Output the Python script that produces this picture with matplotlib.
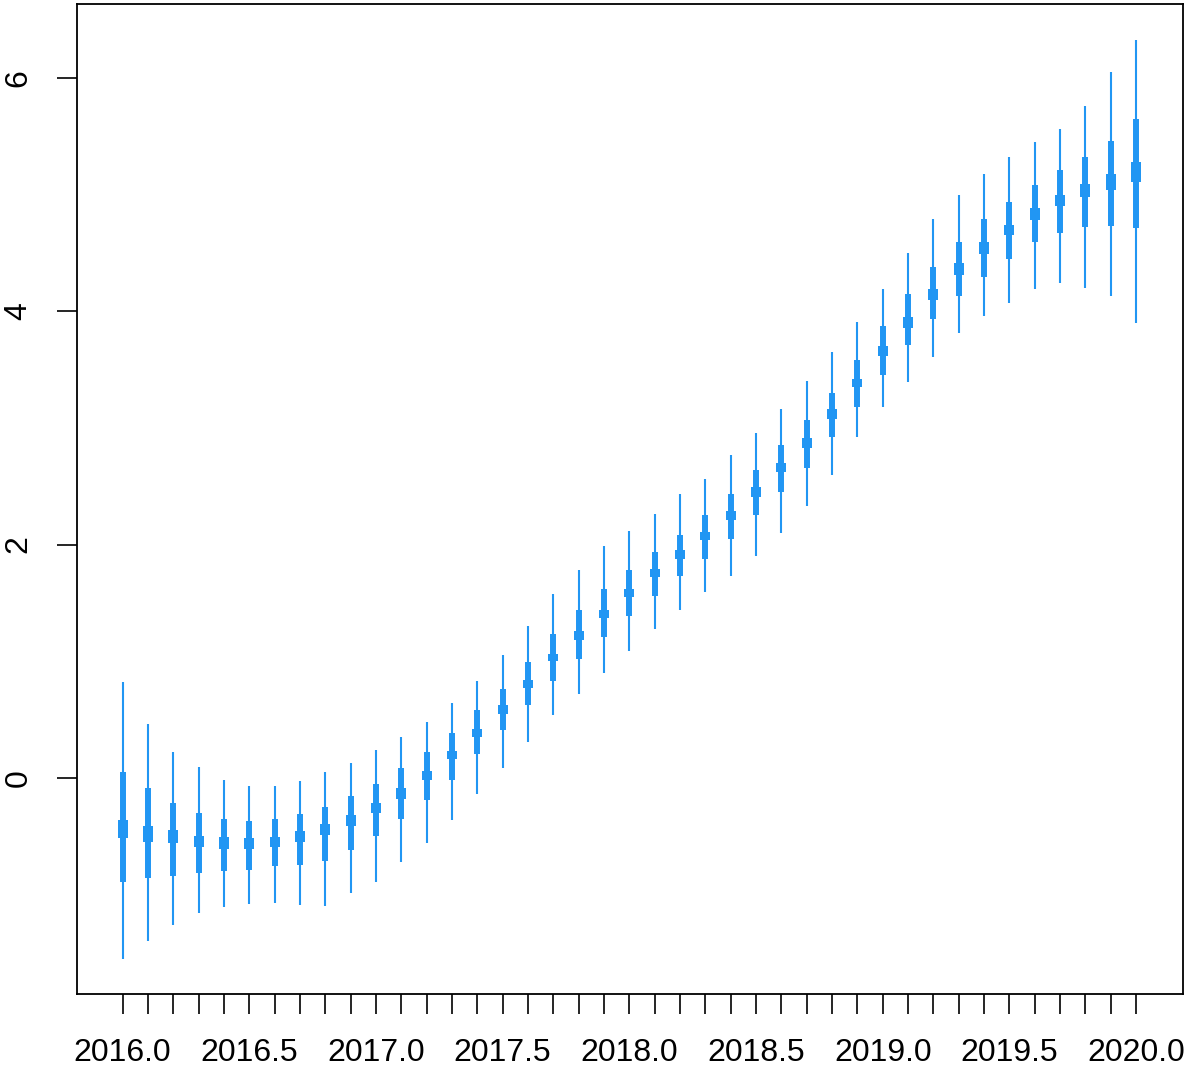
import numpy as np
import matplotlib
matplotlib.use("Agg")
import matplotlib.pyplot as plt

plt.rcParams['font.family'] = ['Liberation Sans', 'DejaVu Sans']

# time points (quarterly-ish steps of 0.1 year)
times = [2016.0, 2016.1, 2016.2, 2016.3, 2016.4, 2016.5, 2016.6, 2016.7, 2016.8, 2016.9,
         2017.0, 2017.1, 2017.2, 2017.3, 2017.4, 2017.5, 2017.6, 2017.7, 2017.8, 2017.9,
         2018.0, 2018.1, 2018.2, 2018.3, 2018.4, 2018.5, 2018.6, 2018.7, 2018.8, 2018.9,
         2019.0, 2019.1, 2019.2, 2019.3, 2019.4, 2019.5, 2019.6, 2019.7, 2019.8, 2019.9,
         2020.0]

# outer interval (thin line)
outer_lo = [-1.55, -1.40, -1.26, -1.16, -1.11, -1.08, -1.07, -1.09, -1.10, -0.99,
            -0.89, -0.72, -0.56, -0.36, -0.14, 0.08, 0.31, 0.54, 0.72, 0.90,
            1.09, 1.28, 1.44, 1.59, 1.73, 1.90, 2.10, 2.33, 2.60, 2.92,
            3.18, 3.39, 3.61, 3.81, 3.96, 4.07, 4.19, 4.24, 4.20, 4.13,
            3.90]
outer_hi = [0.82, 0.46, 0.22, 0.09, -0.02, -0.07, -0.07, -0.03, 0.05, 0.13,
            0.24, 0.35, 0.48, 0.64, 0.83, 1.05, 1.30, 1.58, 1.78, 1.99,
            2.12, 2.26, 2.43, 2.56, 2.77, 2.96, 3.16, 3.40, 3.65, 3.91,
            4.19, 4.50, 4.79, 5.00, 5.18, 5.32, 5.45, 5.56, 5.76, 6.05,
            6.33]

# inner interval (thick line)
inner_lo = [-0.89, -0.86, -0.84, -0.82, -0.80, -0.79, -0.76, -0.75, -0.71, -0.62,
            -0.50, -0.35, -0.19, -0.02, 0.20, 0.41, 0.62, 0.83, 1.02, 1.21,
            1.39, 1.56, 1.73, 1.88, 2.05, 2.25, 2.45, 2.66, 2.92, 3.18,
            3.45, 3.71, 3.93, 4.13, 4.29, 4.45, 4.59, 4.67, 4.72, 4.73,
            4.71]
inner_hi = [0.05, -0.09, -0.22, -0.30, -0.35, -0.37, -0.35, -0.31, -0.25, -0.16,
            -0.05, 0.08, 0.22, 0.38, 0.58, 0.76, 0.99, 1.23, 1.44, 1.62,
            1.78, 1.94, 2.08, 2.25, 2.43, 2.64, 2.85, 3.07, 3.30, 3.58,
            3.87, 4.15, 4.38, 4.59, 4.79, 4.94, 5.08, 5.21, 5.32, 5.46,
            5.65]

# central band (short wide mark)
mid_lo = [-0.52, -0.55, -0.56, -0.59, -0.61, -0.61, -0.59, -0.55, -0.49, -0.41,
          -0.30, -0.18, -0.02, 0.16, 0.35, 0.55, 0.77, 1.00, 1.18, 1.37,
          1.55, 1.72, 1.88, 2.04, 2.21, 2.41, 2.62, 2.83, 3.08, 3.35,
          3.62, 3.86, 4.10, 4.31, 4.49, 4.65, 4.78, 4.90, 4.98, 5.04,
          5.11]
mid_hi = [-0.36, -0.41, -0.45, -0.50, -0.51, -0.52, -0.51, -0.46, -0.40, -0.32,
          -0.22, -0.09, 0.06, 0.23, 0.42, 0.62, 0.84, 1.06, 1.26, 1.44,
          1.62, 1.79, 1.95, 2.11, 2.29, 2.49, 2.70, 2.91, 3.16, 3.42,
          3.70, 3.95, 4.19, 4.41, 4.59, 4.74, 4.89, 5.00, 5.09, 5.18,
          5.28]

col = '#2196F3'

fig = plt.figure(figsize=(12.01, 10.72), dpi=100)
ax = fig.add_axes([77 / 1201, (1072 - 994) / 1072, (1183 - 77) / 1201, (994 - 4) / 1072])

ax.vlines(times, outer_lo, outer_hi, color=col, lw=1.5, capstyle='butt')
ax.vlines(times, inner_lo, inner_hi, color=col, lw=4.3, capstyle='butt')
ax.vlines(times, mid_lo, mid_hi, color=col, lw=7.2, capstyle='butt')

ax.set_xlim(2015.82, 2020.185)
ax.set_ylim(-1.854, 6.635)

ax.set_xticks(times)
ax.set_xticklabels([f"{t:.1f}" if i % 5 == 0 else "" for i, t in enumerate(times)])
ax.set_yticks([0, 2, 4, 6])
ax.set_yticklabels(["0", "2", "4", "6"], rotation=90, va='center')

ax.tick_params(axis='both', length=14.4, width=1.2, labelsize=23, color='black')
ax.tick_params(axis='x', pad=17)
ax.tick_params(axis='y', pad=17)

for s in ax.spines.values():
    s.set_linewidth(1.3)

fig.savefig("out.png", dpi=100)
